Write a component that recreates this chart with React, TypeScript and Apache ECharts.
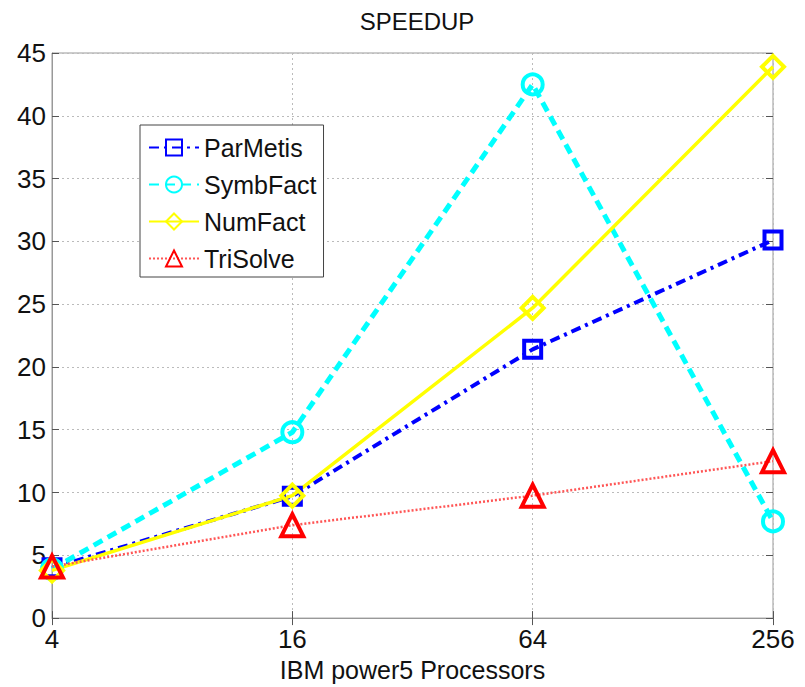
import React, { useEffect, useRef } from "react";
import * as echarts from "echarts";

const categories = ["4", "16", "64", "256"];
const parMetis = [4.0, 9.7, 21.4, 30.1];
const symbFact = [3.9, 14.8, 42.5, 7.7];
const numFact = [3.8, 9.75, 24.7, 43.9];
const triSolve = [4.1, 7.4, 9.75, 12.5];
const yTicks = { min: 0, max: 45, interval: 5 };

const FONT = "Liberation Sans, Arial, Helvetica, sans-serif";

export default function App() {
  const ref = useRef<HTMLDivElement>(null);
  useEffect(() => {
    if (!ref.current) return;
    const chart = echarts.init(ref.current, null, { renderer: "svg" });
    const mk = (name: string, data: number[], color: string, lineColor: string, lineType: any, width: number, symbol: string, size: number) => ({
      name,
      type: "line",
      data,
      xAxisIndex: 0,
      yAxisIndex: 0,
      symbol,
      symbolSize: size,
      lineStyle: { color: lineColor, width, type: lineType },
      itemStyle: { color: "rgba(255,255,255,0)", borderColor: color, borderWidth: 4 },
      emphasis: { disabled: true },
    });
    chart.setOption({
      animation: false,
      textStyle: { fontFamily: FONT },
      title: {
        text: "SPEEDUP",
        left: 412,
        textAlign: "center",
        top: 4,
        textStyle: { fontSize: 24, fontWeight: "normal", color: "#111", fontFamily: FONT },
      },
      legend: {
        orient: "vertical",
        left: 140,
        top: 125,
        padding: [10, 7, 6, 8],
        itemGap: 12,
        itemWidth: 50,
        itemHeight: 20,
        borderColor: "#444",
        borderWidth: 1,
        backgroundColor: "#fff",
        textStyle: { fontSize: 25, color: "#111", fontFamily: FONT },
        data: ["ParMetis", "SymbFact", "NumFact", "TriSolve"],
      },
      grid: {
        left: 52,
        right: 32,
        top: 53,
        bottom: 67,
        show: true,
        borderColor: "#999",
        borderWidth: 1,
        backgroundColor: "#fff",
      },
      xAxis: [
        {
          type: "category",
          data: categories,
          boundaryGap: false,
          axisLine: { show: true, lineStyle: { color: "#999" } },
          axisTick: { show: true, inside: true, length: 7, lineStyle: { color: "#555" } },
          axisLabel: { fontSize: 26, color: "#111", margin: 8, fontFamily: FONT },
          splitLine: { show: true, lineStyle: { color: "#bbb", type: [2, 3], width: 1 } },
          name: "IBM power5 Processors",
          nameLocation: "middle",
          nameGap: 37,
          nameTextStyle: { fontSize: 25, color: "#111", fontFamily: FONT },
        },
        {
          type: "category",
          data: categories,
          boundaryGap: false,
          position: "top",
          axisLine: { show: false },
          axisTick: { show: true, inside: true, length: 7, lineStyle: { color: "#555" } },
          axisLabel: { show: false },
          splitLine: { show: false },
        },
      ],
      yAxis: [
        {
          type: "value",
          ...yTicks,
          axisLine: { show: true, lineStyle: { color: "#999" } },
          axisTick: { show: true, inside: true, length: 7, lineStyle: { color: "#555" } },
          axisLabel: { fontSize: 26, color: "#111", margin: 6, fontFamily: FONT },
          splitLine: { show: true, lineStyle: { color: "#bbb", type: [2, 3], width: 1 } },
        },
        {
          type: "value",
          ...yTicks,
          position: "right",
          axisLine: { show: false },
          axisTick: { show: true, inside: true, length: 7, lineStyle: { color: "#555" } },
          axisLabel: { show: false },
          splitLine: { show: false },
        },
      ],
      series: [
        mk("ParMetis", parMetis, "#0000ff", "#0000ff", [10, 5, 3, 5], 4, "rect", 17),
        mk("SymbFact", symbFact, "#00ffff", "#00ffff", [10, 6], 5, "circle", 20),
        mk("NumFact", numFact, "#ffff00", "#ffff00", "solid", 3.5, "diamond", 22),
        mk("TriSolve", triSolve, "#ff0000", "#ff5555", [2, 2], 2.5, "triangle", 22),
      ],
    });
    return () => chart.dispose();
  }, []);
  return <div ref={ref} style={{ width: 805, height: 687, position: "absolute", left: 0, top: 0 }} />;
}
